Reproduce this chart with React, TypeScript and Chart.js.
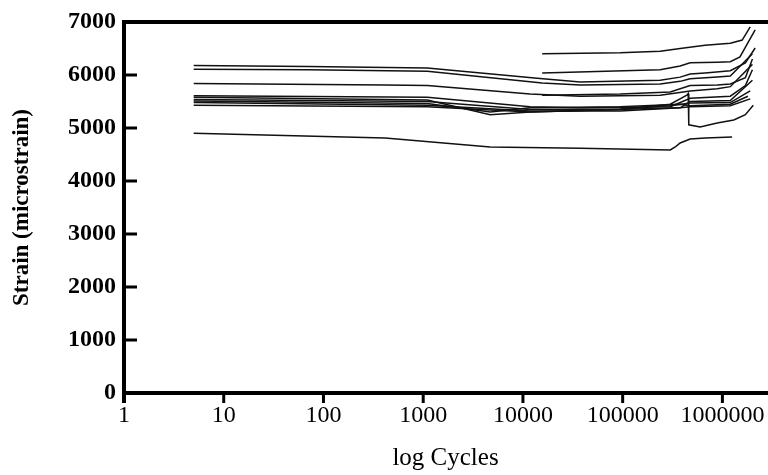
import React, { useEffect, useRef } from "react";
import { Chart, registerables } from "chart.js";

Chart.register(...registerables);

// Tick labels / axis ranges
const xTickValues = [1, 10, 100, 1000, 10000, 100000, 1000000];
const yTickValues = [0, 1000, 2000, 3000, 4000, 5000, 6000, 7000];

// Series: [cycles, strain (microstrain)]
const seriesS1: [number, number][] = [[5, 6180], [70, 6160], [1100, 6130], [13900, 5940], [37500, 5870], [238000, 5900], [377000, 5960], [475000, 6020], [671000, 6040], [1200000, 6080], [1700000, 6230], [2130000, 6510]];
const seriesS2: [number, number][] = [[5, 6110], [70, 6100], [1100, 6070], [15600, 5850], [37500, 5810], [238000, 5830], [377000, 5880], [475000, 5930], [887000, 5960], [1200000, 5980], [2000000, 6400]];
const seriesS3: [number, number][] = [[5, 5840], [415, 5810], [1100, 5800], [11800, 5640], [37500, 5600], [238000, 5620], [475000, 5700], [887000, 5740], [1200000, 5780], [2000000, 6200]];
const seriesL1: [number, number][] = [[15600, 6400], [94400, 6420], [238000, 6450], [377000, 6500], [671000, 6560], [1200000, 6600], [1580000, 6660], [1900000, 6910]];
const seriesL2: [number, number][] = [[15600, 6040], [238000, 6100], [377000, 6170], [475000, 6230], [887000, 6240], [1200000, 6250], [1500000, 6340], [2130000, 6850]];
const seriesL3: [number, number][] = [[15600, 5620], [94400, 5640], [300000, 5680], [475000, 5800], [887000, 5810], [1200000, 5830], [1700000, 5950], [2000000, 6300]];
const seriesC1: [number, number][] = [[5, 5610], [1100, 5580], [11800, 5400], [37500, 5380], [300000, 5400], [475000, 5560], [1200000, 5600], [1700000, 5800], [2000000, 6100]];
const seriesC2: [number, number][] = [[5, 5580], [1100, 5530], [4700, 5250], [11800, 5300], [37500, 5330], [377000, 5380], [475000, 5500], [1200000, 5520], [2000000, 5900]];
const seriesC3: [number, number][] = [[5, 5540], [1100, 5500], [11800, 5350], [94400, 5360], [300000, 5420], [475000, 5470], [1200000, 5480], [1900000, 5700]];
const seriesC4: [number, number][] = [[5, 5510], [1100, 5460], [4700, 5300], [11800, 5380], [94400, 5400], [377000, 5450], [475000, 5420], [1200000, 5450], [1800000, 5600]];
const seriesC5: [number, number][] = [[5, 5480], [1100, 5430], [11800, 5320], [94400, 5320], [377000, 5380], [475000, 5400], [1200000, 5420], [1900000, 5550]];
const seriesD: [number, number][] = [[5, 5430], [1100, 5400], [11800, 5300], [94400, 5350], [300000, 5450], [440000, 5620], [454000, 5650], [460000, 5060], [598000, 5019], [887000, 5094], [1300000, 5150], [1700000, 5250], [2040000, 5430]];
const seriesB: [number, number][] = [[5, 4900], [415, 4810], [4700, 4640], [37500, 4620], [300000, 4585], [340000, 4650], [377000, 4717], [475000, 4792], [671000, 4811], [1250000, 4830]];

const allSeries = [seriesS1, seriesS2, seriesS3, seriesL1, seriesL2, seriesL3, seriesC1, seriesC2, seriesC3, seriesC4, seriesC5, seriesD, seriesB];

const FONT = "'Liberation Serif', 'Times New Roman', serif";

const axesPlugin = {
  id: "paperAxes",
  afterDraw(chart: any) {
    const { ctx, chartArea } = chart;
    const xs = chart.scales.x;
    const ys = chart.scales.y;
    const { left, right, top, bottom } = chartArea;
    ctx.save();
    ctx.strokeStyle = "#000";
    ctx.lineCap = "butt";
    // frame
    ctx.lineWidth = 4;
    ctx.beginPath();
    ctx.moveTo(left, top);
    ctx.lineTo(left, bottom + 10);
    ctx.moveTo(left - 2, bottom);
    ctx.lineTo(right + 1, bottom);
    ctx.moveTo(left - 2, top);
    ctx.lineTo(right + 1, top);
    ctx.stroke();
    // ticks
    ctx.lineWidth = 3;
    ctx.beginPath();
    for (const v of yTickValues) {
      if (v === 0 || v === 7000) continue;
      const py = ys.getPixelForValue(v);
      ctx.moveTo(left, py);
      ctx.lineTo(left + 13, py);
    }
    for (const v of xTickValues) {
      if (v === 1) continue;
      const px = xs.getPixelForValue(v);
      ctx.moveTo(px, bottom);
      ctx.lineTo(px, bottom + 10);
    }
    ctx.stroke();
    ctx.restore();
  },
};

export default function App() {
  const ref = useRef<HTMLCanvasElement | null>(null);
  useEffect(() => {
    document.body.style.margin = "0";
    const canvas = ref.current!;
    const chart = new Chart(canvas, {
      type: "line",
      data: {
        datasets: allSeries.map((s, i) => ({
          label: "Specimen " + (i + 1),
          data: s.map(([x, y]) => ({ x, y })),
          borderColor: "#111",
          borderWidth: 1.5,
          pointRadius: 0,
          tension: 0,
          fill: false,
        })),
      },
      options: {
        animation: false,
        responsive: false,
        maintainAspectRatio: false,
        layout: { padding: { top: 22, right: 1, left: 0, bottom: 0 } },
        plugins: { legend: { display: false }, tooltip: { enabled: false } },
        scales: {
          x: {
            type: "logarithmic",
            min: 1,
            max: 2800000,
            grid: { display: false, drawTicks: false },
            border: { display: false },
            afterBuildTicks: (s: any) => {
              s.ticks = xTickValues.map((v) => ({ value: v }));
            },
            afterFit: (s: any) => {
              s.height = 82;
              s.paddingLeft = 0;
              s.paddingRight = 0;
            },
            ticks: {
              autoSkip: false,
              maxRotation: 0,
              padding: 8,
              color: "#000",
              font: { family: FONT, size: 24 },
              callback: (v: any) => String(v),
            },
            title: {
              display: true,
              text: "log Cycles",
              color: "#000",
              font: { family: FONT, size: 25 },
              padding: { top: 0, bottom: 2 },
            },
          },
          y: {
            type: "linear",
            min: 0,
            max: 7000,
            grid: { display: false, drawTicks: false },
            border: { display: false },
            afterBuildTicks: (s: any) => {
              s.ticks = yTickValues.map((v) => ({ value: v }));
            },
            afterFit: (s: any) => {
              s.width = 124;
              s.paddingTop = 0;
              s.paddingBottom = 0;
            },
            ticks: {
              padding: 8,
              color: "#000",
              font: { family: FONT, size: 24, weight: "bold" },
              callback: (v: any) => String(v),
            },
            title: {
              display: true,
              text: "Strain (microstrain)",
              color: "#000",
              font: { family: FONT, size: 23, weight: "bold" },
              padding: { top: 8, bottom: 0 },
            },
          },
        },
      },
      plugins: [axesPlugin],
    } as any);
    return () => chart.destroy();
  }, []);
  return (
    <div style={{ width: 768, height: 475, position: "relative", background: "#fff" }}>
      <canvas ref={ref} width={768} height={475} />
    </div>
  );
}
